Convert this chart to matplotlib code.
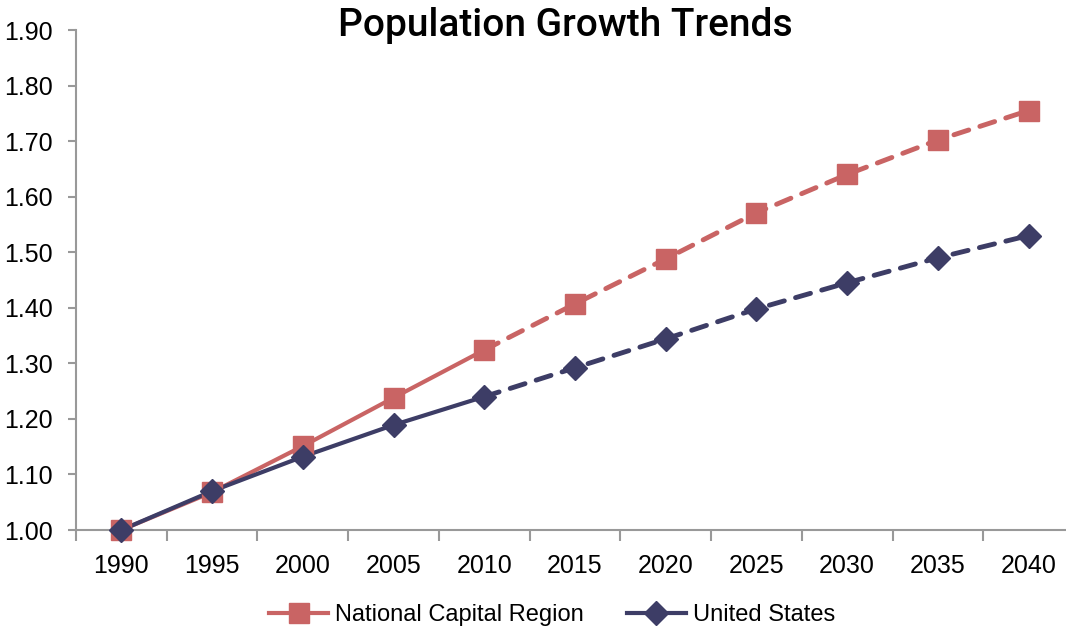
import matplotlib
matplotlib.use("Agg")
import matplotlib.pyplot as plt
from matplotlib.lines import Line2D
import numpy as np

years = ["1990", "1995", "2000", "2005", "2010", "2015",
         "2020", "2025", "2030", "2035", "2040"]

ncr = [1.00, 1.068, 1.151, 1.238, 1.324, 1.407,
       1.488, 1.571, 1.640, 1.702, 1.755]

us = [1.00, 1.070, 1.132, 1.189, 1.240, 1.292,
      1.344, 1.398, 1.445, 1.490, 1.530]

last_actual = 4  # 2010, after that it's projection

NCR_COLOR = "#C96464"
US_COLOR = "#3D3D66"

plt.rcParams["font.family"] = ["Liberation Sans", "DejaVu Sans"]

fig = plt.figure(figsize=(10.66, 6.3), dpi=100)
ax = fig.add_axes([76 / 1066, 100 / 630, 998 / 1066, 500 / 630])

x = np.arange(len(years))

for vals, color, marker, ms, label in [
        (ncr, NCR_COLOR, "s", 14.5, "National Capital Region"),
        (us, US_COLOR, "D", 12, "United States")]:

    ax.plot(
        x[:last_actual + 1],
        vals[:last_actual + 1],
        color=color,
        lw=3,
        solid_capstyle="round"
    )

    ax.plot(
        x[last_actual:],
        vals[last_actual:],
        color=color,
        lw=3.5,
        ls=(0, (3.2, 2.4)),
        dash_capstyle="round"
    )

    ax.plot(
        x,
        vals,
        ls="none",
        marker=marker,
        ms=ms,
        color=color,
        label=label,
        clip_on=False,
        zorder=3
    )

ax.set_xlim(-0.5, len(years) - 0.5)
ax.set_ylim(1.0, 1.9)

ax.set_yticks(np.arange(1.0, 1.91, 0.1))
ax.set_yticklabels([f"{v:.2f}" for v in np.arange(1.0, 1.91, 0.1)])

ax.set_xticks(x)
ax.set_xticklabels(years)
ax.set_xticks(np.arange(-0.5, len(years), 1.0), minor=True)

ax.tick_params(axis="x", which="major", length=0, pad=17, labelsize=18)
ax.tick_params(axis="x", which="minor", length=8, width=1.5, color="#999999", direction="out")
ax.tick_params(axis="y", length=6, width=1.5, color="#999999", direction="out", pad=11, labelsize=18)

for side in ["top", "right"]:
    ax.spines[side].set_visible(False)

for side in ["left", "bottom"]:
    ax.spines[side].set_color("#999999")
    ax.spines[side].set_linewidth(1.5)

fig.text(
    565 / 1066,
    1 - 26 / 630,
    "Population Growth Trends",
    ha="center",
    va="center",
    fontsize=28,
    fontweight="medium",
    family=["Roboto", "DejaVu Sans"]
)

handles = [
    Line2D([], [], color=NCR_COLOR, lw=3, marker="s", ms=14.5),
    Line2D([], [], color=US_COLOR, lw=3, marker="D", ms=12),
]

fig.legend(
    handles,
    ["National Capital Region", "United States"],
    loc="center",
    bbox_to_anchor=(552 / 1066, 1 - 615 / 630),
    ncol=2,
    frameon=False,
    fontsize=17,
    handlelength=2.5,
    handletextpad=0.3,
    columnspacing=1.8
)

fig.savefig("out.png", dpi=100)
plt.close(fig)
